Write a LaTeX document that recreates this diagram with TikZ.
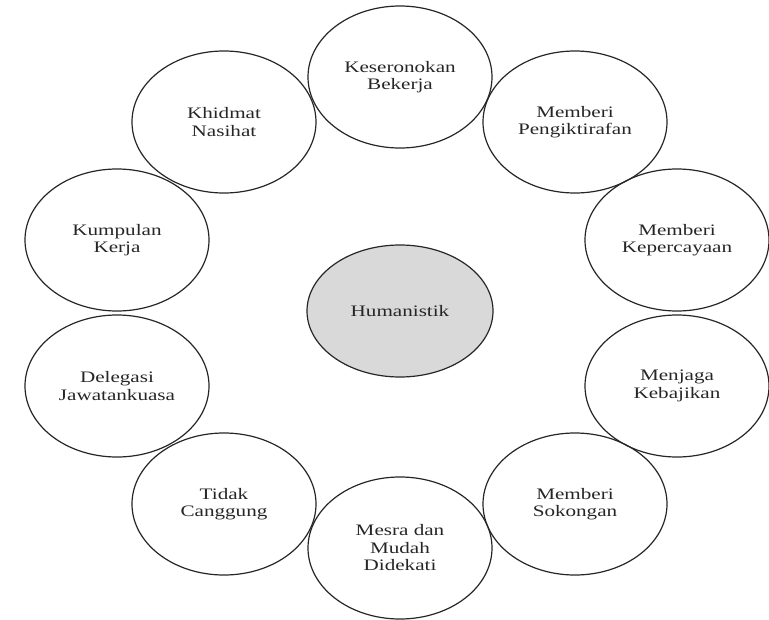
\documentclass[tikz,border=0pt]{standalone}
\usepackage{fontspec}
\setmainfont{Liberation Serif}[FakeStretch=1.32]
\usetikzlibrary{shapes.geometric}
\begin{document}
\begin{tikzpicture}[x=1pt,y=-1pt,
  bubble/.style={ellipse, draw=black!85, line width=1.2pt, minimum width=184pt, minimum height=142pt, inner sep=0pt, align=center, font=\fontsize{16}{17.5}\selectfont, text=black!85},
  hub/.style={bubble, fill=black!15, minimum width=186pt, minimum height=132pt}]
\useasboundingbox (0,0) rectangle (769,619);
\node[hub] (hum) at (400,311) {Humanistik};
\node[bubble] (kes) at (400,77) {Keseronokan\\Bekerja};
\node[bubble] (khi) at (224,122) {Khidmat\\Nasihat};
\node[bubble] (pen) at (575,122) {Memberi\\Pengiktirafan};
\node[bubble] (kum) at (117,240) {Kumpulan\\Kerja};
\node[bubble] (kep) at (677,240) {Memberi\\Kepercayaan};
\node[bubble] (del) at (117,386) {Delegasi\\Jawatankuasa};
\node[bubble] (men) at (677,386) {Menjaga\\Kebajikan};
\node[bubble] (tid) at (224,504) {Tidak\\Canggung};
\node[bubble] (sok) at (575,504) {Memberi\\Sokongan};
\node[bubble] (mes) at (400,548) {Mesra dan\\Mudah\\Didekati};
\end{tikzpicture}
\end{document}
